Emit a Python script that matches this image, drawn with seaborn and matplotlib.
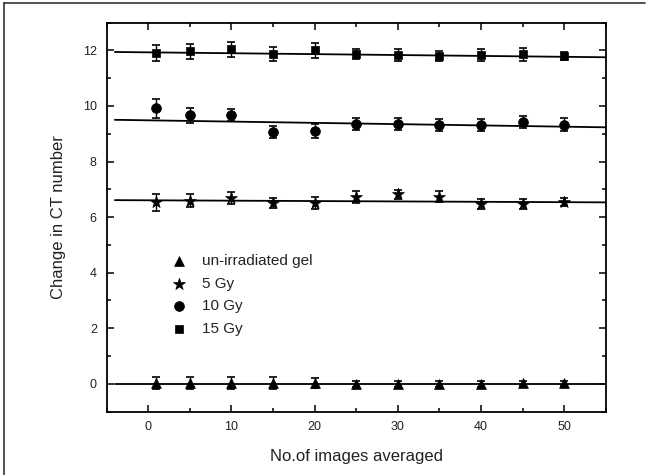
import numpy as np
import pandas as pd
import matplotlib
matplotlib.use("Agg")
import matplotlib.pyplot as plt
import seaborn as sns
from matplotlib.lines import Line2D
from matplotlib.ticker import MultipleLocator

# ---- data ----
n_images = [1, 5, 10, 15, 20, 25, 30, 35, 40, 45, 50]
series_labels = ["un-irradiated gel", "5 Gy", "10 Gy", "15 Gy"]

gel_0 = [0.03, 0.03, 0.03, 0.03, 0.02, 0.0, 0.0, 0.0, 0.0, 0.02, 0.02]
gel_0_err = [0.22, 0.22, 0.2, 0.2, 0.18, 0.1, 0.1, 0.1, 0.1, 0.1, 0.1]

gy_5 = [6.53, 6.59, 6.68, 6.52, 6.5, 6.72, 6.82, 6.74, 6.47, 6.47, 6.55]
gy_5_err = [0.3, 0.23, 0.21, 0.18, 0.22, 0.22, 0.17, 0.21, 0.17, 0.19, 0.15]

gy_10 = [9.92, 9.67, 9.67, 9.05, 9.1, 9.35, 9.35, 9.3, 9.32, 9.42, 9.33]
gy_10_err = [0.34, 0.27, 0.21, 0.21, 0.26, 0.21, 0.2, 0.22, 0.21, 0.21, 0.22]

gy_15 = [11.91, 11.96, 12.03, 11.87, 12.0, 11.86, 11.83, 11.8, 11.84, 11.85, 11.79]
gy_15_err = [0.28, 0.26, 0.26, 0.24, 0.26, 0.18, 0.22, 0.19, 0.21, 0.22, 0.15]

# fitted lines: values at the left and right ends of the fit range
fit_x = [-4, 55]
fit_left = [0.0, 6.61, 9.5, 11.94]
fit_right = [0.0, 6.53, 9.23, 11.75]

x_ticks = [0, 10, 20, 30, 40, 50]
y_ticks = [0, 2, 4, 6, 8, 10, 12]

# ---- plotting ----
sns.set_style("ticks")
plt.rcParams["font.family"] = ["Liberation Sans", "DejaVu Sans"]

fig = plt.figure(figsize=(6.46, 4.75), dpi=100)
ax = fig.add_axes([0.165, 0.1333, 0.7726, 0.8193])

values = [gel_0, gy_5, gy_10, gy_15]
errors = [gel_0_err, gy_5_err, gy_10_err, gy_15_err]
markers = ["^", "*", "o", "s"]
sizes = [50, 80, 50, 38]

for lab, v, e, m, s, fl, fr in zip(series_labels, values, errors, markers, sizes, fit_left, fit_right):
    df = pd.DataFrame({"x": n_images, "y": v})
    ax.errorbar(n_images, v, yerr=e, fmt="none", ecolor="black",
                elinewidth=1.0, capsize=3, capthick=1.2, zorder=2)
    sns.lineplot(x=fit_x, y=[fl, fr], color="black", lw=1.3, ax=ax, zorder=1)
    sns.scatterplot(data=df, x="x", y="y", marker=m, s=s, color="black",
                    edgecolor="black", linewidth=0.5, ax=ax, label=lab, zorder=3)

ax.set_xlim(-5, 55)
ax.set_ylim(-1, 13)
ax.set_xticks(x_ticks)
ax.set_yticks(y_ticks)
ax.xaxis.set_minor_locator(MultipleLocator(5))
ax.yaxis.set_minor_locator(MultipleLocator(1))
ax.tick_params(which="both", direction="in", top=True, right=True,
               labeltop=False, labelright=False, width=1.1, colors="black",
               labelcolor="#222222", labelsize=9)
ax.tick_params(which="major", length=5, pad=7)
ax.tick_params(which="minor", length=3)
for sp in ax.spines.values():
    sp.set_linewidth(1.3)
    sp.set_color("black")

ax.set_xlabel("No.of images averaged", fontsize=12, color="#222222", labelpad=11)
ax.set_ylabel("Change in CT number", fontsize=12, color="#222222", labelpad=12)

leg = ax.legend(loc="upper left", bbox_to_anchor=(0.117, 0.42), frameon=False,
                fontsize=11, handletextpad=1.0, labelspacing=0.55,
                handlelength=1.0, borderaxespad=0)
for t in leg.get_texts():
    t.set_color("#222222")

# outer frame of the figure (top and left edges)
fig.add_artist(Line2D([0.006, 0.998], [0.994, 0.994], transform=fig.transFigure,
                      color="#333333", lw=1.2))
fig.add_artist(Line2D([0.006, 0.006], [0.0, 0.994], transform=fig.transFigure,
                      color="#333333", lw=1.2))

fig.savefig("out.png", dpi=100)
